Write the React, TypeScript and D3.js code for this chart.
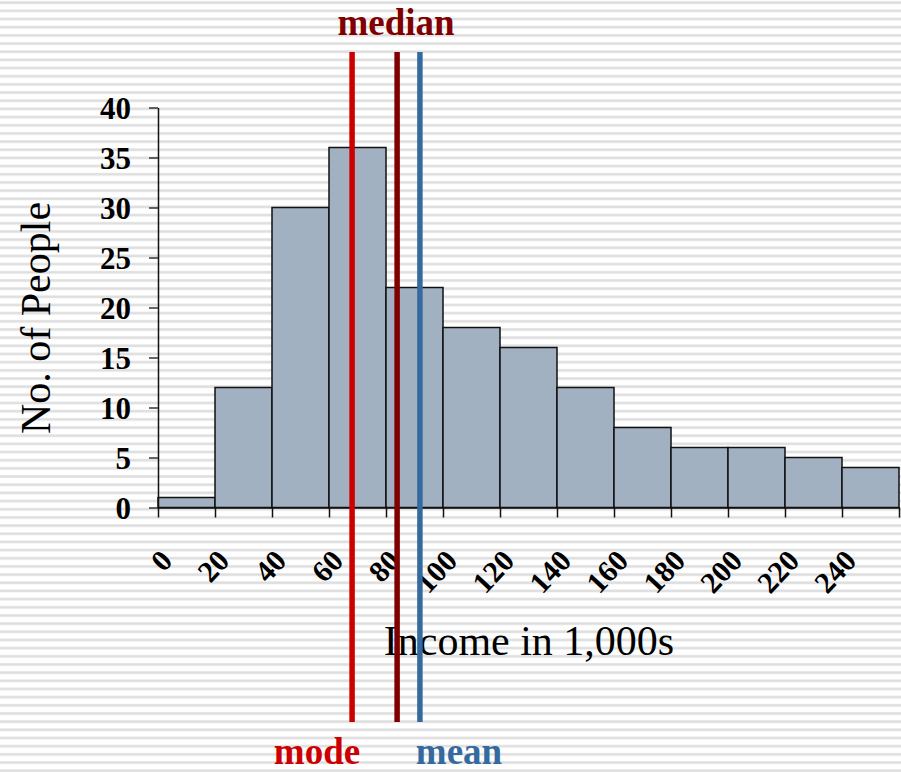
import React, { useEffect, useRef } from "react";
import * as d3 from "d3";

// Histogram of income (in thousands) with mode / median / mean markers
const binStarts = [0, 20, 40, 60, 80, 100, 120, 140, 160, 180, 200, 220, 240];
const binWidth = 20;
const counts = [1, 12, 30, 36, 22, 18, 16, 12, 8, 6, 6, 5, 4];
const yTicks = [0, 5, 10, 15, 20, 25, 30, 35, 40];
const xTicks = [0, 20, 40, 60, 80, 100, 120, 140, 160, 180, 200, 220, 240, 260];
const xTickLabels = ["0", "20", "40", "60", "80", "100", "120", "140", "160", "180", "200", "220", "240"];

const markerNames = ["mode", "median", "mean"];
const markerValues = [68.1, 83.9, 91.9];
const markerColors = ["#cc0000", "#800000", "#356a9f"];

const W = 901;
const H = 772;
const FONT = "'Liberation Serif', 'Times New Roman', serif";

export default function App() {
  const ref = useRef<SVGSVGElement | null>(null);

  useEffect(() => {
    const svg = d3.select(ref.current);
    svg.selectAll("*").remove();

    const x = d3.scaleLinear().domain([0, 260]).range([158, 899]);
    const y = d3.scaleLinear().domain([0, 40]).range([507.5, 107.5]);

    // striped backdrop
    const defs = svg.append("defs");
    const pat = defs
      .append("pattern")
      .attr("id", "stripes")
      .attr("patternUnits", "userSpaceOnUse")
      .attr("width", W)
      .attr("height", 8.17)
      .attr("y", 1.2);
    pat.append("rect").attr("width", W).attr("height", 8.17).attr("fill", "#ffffff");
    pat.append("rect").attr("y", 0).attr("width", W).attr("height", 3).attr("fill", "#ececec");
    pat.append("rect").attr("y", 0.5).attr("width", W).attr("height", 2).attr("fill", "#dedede");
    svg.append("rect").attr("width", W).attr("height", H).attr("fill", "url(#stripes)");

    // bars
    svg
      .append("g")
      .selectAll("rect")
      .data(binStarts)
      .join("rect")
      .attr("x", (d) => x(d))
      .attr("y", (d, i) => y(counts[i]))
      .attr("width", (d) => x(d + binWidth) - x(d))
      .attr("height", (d, i) => y(0) - y(counts[i]))
      .attr("fill", "#a2b1c1")
      .attr("stroke", "#111")
      .attr("stroke-width", 1.5);

    // y axis
    const gy = svg
      .append("g")
      .attr("transform", `translate(${x(0)},0)`)
      .call(d3.axisLeft(y).tickValues(yTicks).tickSize(9).tickSizeOuter(0).tickFormat(d3.format("d")));
    gy.select(".domain").attr("stroke", "#111").attr("stroke-width", 1.5);
    gy.selectAll(".tick line").attr("stroke", "#333").attr("stroke-width", 1.5);
    gy.selectAll(".tick text")
      .attr("x", -27)
      .attr("dy", "0.36em")
      .attr("fill", "#000")
      .style("font-family", FONT)
      .style("font-weight", "bold")
      .style("font-size", "31px");

    // x axis
    const gx = svg
      .append("g")
      .attr("transform", `translate(0,${y(0)})`)
      .call(d3.axisBottom(x).tickValues(xTicks).tickSize(10).tickSizeOuter(0).tickFormat(() => ""));
    gx.select(".domain").attr("stroke", "#111").attr("stroke-width", 1.5);
    gx.selectAll(".tick line").attr("stroke", "#111").attr("stroke-width", 1.5);

    svg
      .append("g")
      .selectAll("text")
      .data(xTickLabels)
      .join("text")
      .attr("transform", (d, i) => `translate(${x(xTicks[i]) + 16},${562}) rotate(-47)`)
      .attr("text-anchor", "end")
      .style("font-family", FONT)
      .style("font-weight", "bold")
      .style("font-size", "30px")
      .attr("fill", "#000")
      .text((d) => d);

    // axis titles
    svg
      .append("text")
      .attr("x", 529)
      .attr("y", 655)
      .attr("text-anchor", "middle")
      .style("font-family", FONT)
      .style("font-size", "42px")
      .attr("fill", "#000")
      .text("Income in 1,000s");

    svg
      .append("text")
      .attr("transform", `translate(50,318) rotate(-90)`)
      .attr("text-anchor", "middle")
      .style("font-family", FONT)
      .style("font-size", "42px")
      .attr("fill", "#000")
      .text("No. of People");

    // marker lines
    svg
      .append("g")
      .selectAll("line")
      .data(markerValues)
      .join("line")
      .attr("x1", (d) => x(d))
      .attr("x2", (d) => x(d))
      .attr("y1", 52)
      .attr("y2", 722)
      .attr("stroke", (d, i) => markerColors[i])
      .attr("stroke-width", 5.5);

    // marker labels
    const labelPos = [
      { x: 317, y: 764 },
      { x: 396, y: 35 },
      { x: 459, y: 764 },
    ];
    svg
      .append("g")
      .selectAll("text")
      .data(markerNames)
      .join("text")
      .attr("x", (d, i) => labelPos[i].x)
      .attr("y", (d, i) => labelPos[i].y)
      .attr("text-anchor", "middle")
      .attr("fill", (d, i) => markerColors[i])
      .style("font-family", FONT)
      .style("font-weight", "bold")
      .style("font-size", "37px")
      .text((d) => d);
  }, []);

  return (
    <svg
      ref={ref}
      width={W}
      height={H}
      style={{ position: "absolute", left: 0, top: 0, display: "block" }}
    />
  );
}
